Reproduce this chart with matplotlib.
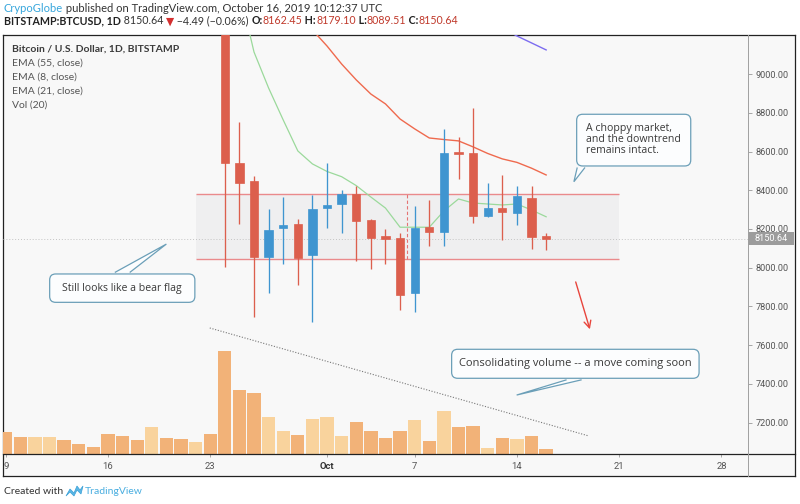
import numpy as np
import matplotlib
matplotlib.use('Agg')
import matplotlib.pyplot as plt
from matplotlib.patches import FancyBboxPatch, Polygon, Rectangle
from matplotlib.lines import Line2D
from matplotlib.transforms import IdentityTransform, blended_transform_factory

# day index 0 = Sep 9 2019
# candles that are visible (Sep 24 .. Oct 16)
candle_day = list(range(15, 38))
opens  = [9700, 8540, 8450, 8057, 8204, 8224, 8066, 8310, 8331, 8382, 8246, 8164,
          8155, 7868, 8212, 8186, 8594, 8594, 8267, 8307, 8281, 8358, 8162.45]
highs  = [9800, 8754, 8474, 8302, 8364, 8250, 8376, 8539, 8401, 8424, 8250, 8198,
          8178, 8320, 8350, 8715, 8674, 8823, 8436, 8479, 8422, 8424, 8179.10]
lows   = [8005, 8226, 7747, 7871, 8019, 7911, 7721, 8203, 8178, 8036, 7992, 8019,
          7781, 7773, 8114, 8114, 8457, 8229, 8264, 8143, 8221, 8097, 8089.51]
closes = [8542, 8436, 8057, 8195, 8220, 8052, 8303, 8324, 8381, 8241, 8152, 8150,
          7859, 8207, 8183, 8594, 8587, 8267, 8307, 8289, 8370, 8160, 8150.64]

# volume for every day Sep 9 .. Oct 16 (relative units)
volume = [22, 17, 17, 17, 14, 9.7, 7.3, 20, 18.3, 14.3, 27.3, 15.7, 15, 11.7, 20,
          103, 63.7, 60.7, 37, 23.3, 19, 34.7, 37, 18.3, 31.7, 22.7, 15.7, 23.3,
          33.7, 12.7, 42.7, 27, 28, 6, 16, 15, 18.3, 5.3]
# up/down for the days whose candles are off the top of the chart
early_up = [0, 0, 1, 1, 0, 0, 0, 0, 0, 0, 1, 0, 0, 1, 0]

ema8_day = list(range(16, 38))
ema8 = [9435, 9114, 8928, 8763, 8603, 8536, 8497, 8470, 8424, 8365, 8308, 8209,
        8209, 8209, 8293, 8355, 8334, 8329, 8324, 8329, 8298, 8263]
ema21_day = list(range(21, 38))
ema21 = [9228, 9145, 9052, 8970, 8897, 8846, 8768, 8717, 8670, 8662, 8655, 8624,
         8590, 8562, 8544, 8514, 8479]
ema55_day = list(range(34, 38))
ema55 = [9238, 9197, 9161, 9125]

price_ticks = [7200, 7400, 7600, 7800, 8000, 8200, 8400, 8600, 8800, 9000]
date_ticks = [0, 7, 14, 22, 28, 35, 42, 49]
date_labels = ['9', '16', '23', 'Oct', '7', '14', '21', '28']

RED = '#dc5f4d'
BLUE = '#3f95d0'
VOL_DN = '#f2b278'
VOL_UP = '#f9d39d'
CALL = '#6b9fb8'

W, H = 800, 504
fig = plt.figure(figsize=(W / 100, H / 100), dpi=100)
fig.patch.set_facecolor('white')


def rect(x0, y0, x1, y1):
    # pixel box (top-left origin) -> figure fraction
    return [x0 / W, 1 - y1 / H, (x1 - x0) / W, (y1 - y0) / H]


def fpt(x, y):
    return x / W, 1 - y / H


# frame with light grey background
frame = fig.add_axes(rect(3, 35, 795, 476))
frame.set_facecolor('#f8f8f8')
frame.set_xticks([])
frame.set_yticks([])
for s in frame.spines.values():
    s.set_color('#222')
    s.set_linewidth(0.9)

pane = rect(3, 35, 748, 454)
ax_v = fig.add_axes(pane)
ax = fig.add_axes(pane, sharex=ax_v)
for a in (ax_v, ax):
    a.patch.set_visible(False)
    for s in a.spines.values():
        s.set_visible(False)

ax.set_xlim(-0.185, 50.82)
ax.set_ylim(7037.5, 9202)

# volume
vol_up = early_up + [1 if c >= o else 0 for o, c in zip(opens, closes)]
vol_days = np.arange(len(volume))
ax_v.bar(vol_days, volume, width=0.91, color=[VOL_UP if u else VOL_DN for u in vol_up],
         edgecolor='none')
ax_v.set_ylim(0, 419)
ax_v.set_yticks([])
ax_v.tick_params(axis='x', length=0, labelbottom=False)

# range box
ax.add_patch(Rectangle((13.0, 8045), 29.0, 8381 - 8045, facecolor='#efeff0',
                       edgecolor='none', zorder=1))
ax.hlines([8045, 8381], 13.0, 42.0, color='#ea8a8c', lw=1.0, zorder=2)
ax.vlines(27.5, 8045, 8381, color='#e57373', lw=0.8, linestyles=(0, (3, 2)), zorder=2)

# last price line
ax.axhline(closes[-1], color='#c4c4c4', lw=0.7, ls=(0, (1, 2)), zorder=1)

# EMAs
ax.plot(ema8_day, ema8, color='#9bd99b', lw=0.9, zorder=3)
ax.plot(ema21_day, ema21, color='#ef6a4e', lw=1.0, zorder=3)
ax.plot(ema55_day, ema55, color='#7c6cf0', lw=1.0, zorder=3)

# candles
cols = [BLUE if c >= o else RED for o, c in zip(opens, closes)]
ax.vlines(candle_day, lows, highs, color=cols, lw=0.95, zorder=4)
bottoms = [min(o, c) for o, c in zip(opens, closes)]
heights = [max(abs(c - o), 12) for o, c in zip(opens, closes)]
ax.bar(candle_day, heights, bottom=bottoms, width=0.57, color=cols,
       edgecolor=cols, lw=0.5, zorder=5)

# trend line over volume
ax.plot([13.97, 39.93], [7688.5, 7130.5], color='#777777', lw=0.8, ls=(0, (1, 1.5)), zorder=3)

# red arrow
ax.annotate('', xy=(40.05, 7668), xytext=(38.97, 7940),
            arrowprops=dict(arrowstyle='->,head_length=0.5,head_width=0.25',
                            color='#e8453c', lw=1.0), zorder=6)

# axes ticks
ax.yaxis.tick_right()
ax.set_yticks(price_ticks)
ax.set_yticklabels([f'{v:.2f}' for v in price_ticks])
ax.tick_params(axis='y', direction='out', length=3, width=0.6, color='#999999',
               labelsize=6.6, labelcolor='#555555', pad=2.5)
for lbl in ax.get_yticklabels():
    lbl.set_family('Roboto')
ax.set_xticks(date_ticks)
ax.set_xticklabels(date_labels)
ax.tick_params(axis='x', direction='out', length=2.5, width=0.6, color='#999999',
               labelsize=6.8, labelcolor='#555555', pad=3)
for lbl in ax.get_xticklabels():
    lbl.set_family('Roboto')
    if lbl.get_text() == 'Oct':
        lbl.set_fontweight('bold')
        lbl.set_color('#333333')
first = ax.get_xticklabels()[0]
first.set_clip_on(True)
first.set_clip_box(frame.bbox)

# last price tag on the axis
bt = blended_transform_factory(ax.transAxes, ax.transData)
ax.add_patch(Rectangle((1.0, closes[-1] - 34), 46 / 745, 68, transform=bt,
                       facecolor='#9c9c9c', edgecolor='none', clip_on=False, zorder=7))
ax.text(1.0 + 23 / 745, closes[-1], f'{closes[-1]:.2f}', transform=bt, ha='center',
        va='center', fontsize=6.6, color='white', family='Roboto', zorder=8)

# separators
fig.add_artist(Line2D([3 / W, 795 / W], [1 - 454 / H] * 2, color='#222', lw=0.9))
fig.add_artist(Line2D([748 / W] * 2, [1 - 35 / H, 1 - 476 / H], color='#a0a0a0', lw=0.7))


# callouts
def callout(d0, p0, d1, p1, base0, base1, bp, tip, text, tx, ty, ha='center',
            va='center', ls=1.2, size=7.8):
    (x0, y0), (x1, y1) = ax.transData.transform([(d0, p0), (d1, p1)])
    box = FancyBboxPatch((x0, y0), x1 - x0, y1 - y0,
                         boxstyle='round,pad=0,rounding_size=6',
                         transform=IdentityTransform(), facecolor='#fcfdfe',
                         edgecolor=CALL, lw=0.9, zorder=8)
    fig.add_artist(box)
    (bx0, by), (bx1, _), (tx_, ty_) = ax.transData.transform([(base0, bp), (base1, bp), tip])
    inward = -1.5 if ty_ < by else 1.5
    tri = Polygon([(bx0, by + inward), (tx_, ty_), (bx1, by + inward)], closed=False,
                  transform=IdentityTransform(), facecolor='#fcfdfe', edgecolor=CALL,
                  lw=0.9, zorder=9)
    fig.add_artist(tri)
    px, py = ax.transData.transform((tx, ty))
    t = fig.text(px, py, text, transform=IdentityTransform(), ha=ha, va=va,
                 fontsize=size, color='#3a3a3a', family='Open Sans', linespacing=ls,
                 zorder=10)
    return t


callout(3.01, 7821, 12.95, 7967.5, 7.47, 8.49, 7967.5, (11.0, 8122),
        'Still looks like a bear flag', 7.98, 7894, size=7.6)
callout(39.09, 8525.4, 46.9, 8792.5, 39.13, 39.66, 8525.4, (38.9, 8444),
        'A choppy market,\nand the downtrend\nremains intact.', 39.7, 8748,
        ha='left', va='top', ls=0.98, size=7.6)
callout(30.53, 7428.6, 47.47, 7578.4, 38.4, 39.43, 7428.6, (34.98, 7342),
        'Consolidating volume -- a move coming soon', 39.0, 7503, size=8.0)

# legend text
leg = ['EMA (55, close)', 'EMA (8, close)', 'EMA (21, close)', 'Vol (20)']
fig.text(*fpt(12, 49), 'Bitcoin / U.S. Dollar, 1D, BITSTAMP', fontsize=7.5,
         fontweight='bold', color='#3a3a3a', family='Lato', va='center')
for i, s in enumerate(leg):
    fig.text(*fpt(12, 63 + 14 * i), s, fontsize=7.5, color='#555555', family='Lato',
             va='center')

# header rows
renderer = fig.canvas.get_renderer()


def row(pieces, x, y, size):
    for s, color, weight in pieces:
        t = fig.text(*fpt(x, y), s, color=color, fontweight=weight, fontsize=size,
                     va='center', ha='left', family=['Lato', 'DejaVu Sans'])
        x += t.get_window_extent(renderer=renderer).width


VAL = '#c0392b'
row([('CrypoGlobe', '#36a6dc', 'normal'),
     (' published on TradingView.com, October 16, 2019 10:12:37 UTC', '#333333', 'normal')],
    4, 8, 8.0)
row([('BITSTAMP:BTCUSD, 1D', '#222222', 'bold'),
     (f' {closes[-1]:.2f} ', '#333333', 'normal'),
     ('\u25BC', '#d32f2f', 'normal'),
     (' \u22124.49 (\u22120.06%) ', '#333333', 'normal'),
     ('O:', '#222222', 'bold'), (f'{opens[-1]:.2f}', VAL, 'normal'),
     (' H:', '#222222', 'bold'), (f'{highs[-1]:.2f}', VAL, 'normal'),
     (' L:', '#222222', 'bold'), (f'{lows[-1]:.2f}', VAL, 'normal'),
     (' C:', '#222222', 'bold'), (f'{closes[-1]:.2f}', VAL, 'normal')],
    4, 21, 7.7)

# footer
fig.text(*fpt(4, 491), 'Created with', fontsize=7.5, color='#333333', family='Lato',
         va='center')
logo_x = np.array([66, 70, 74, 77, 80, 83, 81, 77, 74, 70, 66])
logo_y = np.array([496, 489, 493, 486, 490, 486, 494, 490, 496, 492, 496])
fig.add_artist(Polygon(np.column_stack([logo_x / W, 1 - logo_y / H]), closed=True,
                       facecolor='#5cb8e6', edgecolor='#3a9fd6', lw=0.5,
                       transform=fig.transFigure))
fig.text(*fpt(85, 491), 'TradingView', fontsize=7.5, color='#4aaee0', family='Lato',
         va='center')

fig.savefig('out.png', dpi=100)
